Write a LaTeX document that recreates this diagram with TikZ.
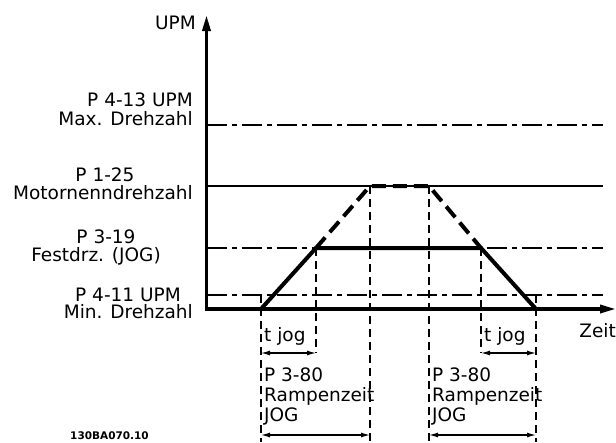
\documentclass[tikz,border=0pt]{standalone}
\usepackage{fontspec}
\setmainfont{DejaVu Sans}
\usetikzlibrary{arrows.meta}
\begin{document}
\begin{tikzpicture}[x=1pt,y=-1pt,
  lbl/.style={inner sep=0pt,font=\fontsize{18.5}{20}\selectfont},
  thinline/.style={line width=1.2pt},
  dashdot/.style={line width=1.2pt,dash pattern=on 20pt off 5pt on 5pt off 5pt},
  vdash/.style={line width=1.2pt,dash pattern=on 8pt off 5pt},
  ramp/.style={line width=4pt},
  rampdash/.style={line width=4pt,dash pattern=on 14pt off 7pt},
  axis/.style={line width=3.3pt,-{Triangle[length=16pt,width=8pt]}},
  dim/.style={line width=1.2pt,{Latex[length=9pt,width=5pt]}-{Latex[length=9pt,width=5pt]}}
]
\useasboundingbox (0,0) rectangle (616,442);
% axes
\coordinate (Ybot) at (206.5,311);
\coordinate (Ytop) at (206.5,15);
\coordinate (Xbeg) at (205,309);
\coordinate (Xend) at (616,309);
% reference levels
\coordinate (maxL) at (206.5,125); \coordinate (maxR) at (603,125);
\coordinate (nomL) at (206.5,186); \coordinate (nomR) at (603,186);
\coordinate (jogL) at (206.5,248); \coordinate (jogR) at (603,248);
\coordinate (minL) at (206.5,295); \coordinate (minR) at (603,295);
\draw[dashdot] (maxL) -- (maxR);
\draw[thinline] (nomL) -- (nomR);
\draw[dashdot] (jogL) -- (jogR);
\draw[dashdot] (minL) -- (minR);
% ramp points
\coordinate (r0) at (261,309);
\coordinate (r1) at (316,248);
\coordinate (r2) at (481,248);
\coordinate (r3) at (536,309);
\coordinate (d1) at (370,186);
\coordinate (d2) at (429,186);
% vertical guides
\coordinate (v0t) at (261,295); \coordinate (v0b) at (261,442);
\coordinate (v1t) at (316,248); \coordinate (v1b) at (316,353);
\coordinate (v2t) at (370,186); \coordinate (v2b) at (370,442);
\coordinate (v3t) at (429,186); \coordinate (v3b) at (429,442);
\coordinate (v4t) at (481,248); \coordinate (v4b) at (481,353);
\coordinate (v5t) at (536,295); \coordinate (v5b) at (536,442);
\foreach \i in {0,...,5} {\draw[vdash] (v\i t) -- (v\i b);}
% ramp
\draw[rampdash] (r1) -- (d1) -- (d2) -- (r2);
\draw[ramp] (r0) -- (r1) -- (r2) -- (r3);
% axes on top
\draw[axis] (Ybot) -- (Ytop);
\draw[axis] (Xbeg) -- (Xend);
% dimension arrows
\coordinate (t1a) at (261,353); \coordinate (t1b) at (316,353);
\coordinate (t2a) at (481,353); \coordinate (t2b) at (536,353);
\coordinate (b1a) at (261,435); \coordinate (b1b) at (370,435);
\coordinate (b2a) at (429,435); \coordinate (b2b) at (536,435);
\draw[dim] (t1a) -- (t1b);
\draw[dim] (t2a) -- (t2b);
\draw[dim] (b1a) -- (b1b);
\draw[dim] (b2a) -- (b2b);
% labels
\node[lbl,anchor=base east] (upm) at (196,29) {UPM};
\node[lbl,anchor=base east] (max1) at (193,106) {P 4-13 UPM};
\node[lbl,anchor=base east] (max2) at (193,125) {Max. Drehzahl};
\node[lbl,anchor=base] (nom1) at (105,181) {P 1-25};
\node[lbl,anchor=base east] (nom2) at (193,199) {Motornenndrehzahl};
\node[lbl,anchor=base] (jog1) at (106,243) {P 3-19};
\node[lbl,anchor=base] (jog2) at (96,261) {Festdrz. (JOG)};
\node[lbl,anchor=base] (min1) at (128,301) {P 4-11 UPM};
\node[lbl,anchor=base east] (min2) at (193,318) {Min. Drehzahl};
\node[lbl,anchor=base east] (zeit) at (616,337) {Zeit};
\node[lbl,anchor=base west] (tj1) at (264,341) {t jog};
\node[lbl,anchor=base west] (tj2) at (484,341) {t jog};
\node[lbl,anchor=base west] (ra1) at (264,381) {P 3-80};
\node[lbl,anchor=base west] (rb1) at (264,401) {Rampenzeit};
\node[lbl,anchor=base west] (rc1) at (264,421) {JOG};
\node[lbl,anchor=base west] (ra2) at (432,381) {P 3-80};
\node[lbl,anchor=base west] (rb2) at (432,401) {Rampenzeit};
\node[lbl,anchor=base west] (rc2) at (432,421) {JOG};
\node[inner sep=0pt,anchor=base west,font=\fontsize{10.5}{12}\selectfont\bfseries] (code) at (70,439) {130BA070.10};
\end{tikzpicture}
\end{document}
